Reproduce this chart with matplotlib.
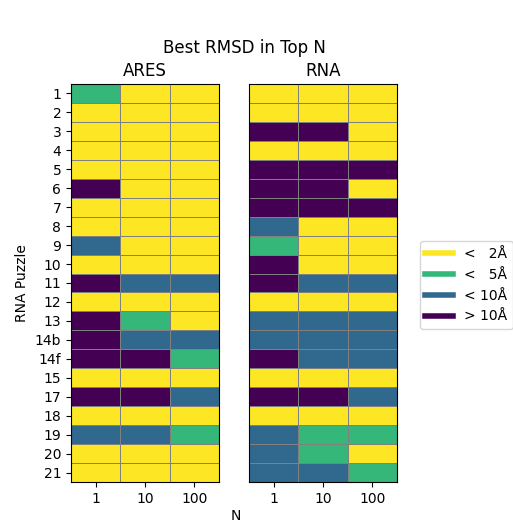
import numpy as np
import matplotlib
matplotlib.use("Agg")
import matplotlib.pyplot as plt
from matplotlib.colors import ListedColormap
from matplotlib.lines import Line2D

puzzles = ["1", "2", "3", "4", "5", "6", "7", "8", "9", "10", "11", "12",
           "13", "14b", "14f", "15", "17", "18", "19", "20", "21"]
top_n = ["1", "10", "100"]
# 0: > 10A, 1: < 10A, 2: < 5A, 3: < 2A
ares = [
    [2, 3, 3], [3, 3, 3], [3, 3, 3], [3, 3, 3], [3, 3, 3], [0, 3, 3],
    [3, 3, 3], [3, 3, 3], [1, 3, 3], [3, 3, 3], [0, 1, 1], [3, 3, 3],
    [0, 2, 3], [0, 1, 1], [0, 0, 2], [3, 3, 3], [0, 0, 1], [3, 3, 3],
    [1, 1, 2], [3, 3, 3], [3, 3, 3],
]
rna = [
    [3, 3, 3], [3, 3, 3], [0, 0, 3], [3, 3, 3], [0, 0, 0], [0, 0, 3],
    [0, 0, 0], [1, 3, 3], [2, 3, 3], [0, 3, 3], [0, 1, 1], [3, 3, 3],
    [1, 1, 1], [1, 1, 1], [0, 1, 1], [3, 3, 3], [0, 0, 1], [3, 3, 3],
    [1, 2, 2], [1, 2, 3], [1, 1, 2],
]
level_labels = ["<   2Å", "<   5Å", "< 10Å", "> 10Å"]
colors = ["#440154", "#31688e", "#35b779", "#fde725"]

cmap = ListedColormap(colors)

fig = plt.figure(figsize=(5.13, 5.23), dpi=100)
ax1 = fig.add_axes([0.1384, 0.0784, 0.2885, 0.761])
ax2 = fig.add_axes([0.4854, 0.0784, 0.2885, 0.761])

for ax, data, name in [(ax1, ares, "ARES"), (ax2, rna, "RNA")]:
    arr = np.array(data)
    ax.pcolormesh(arr, cmap=cmap, vmin=-0.5, vmax=3.5,
                  edgecolors="#808080", linewidth=0.6)
    ax.set_xlim(0, len(top_n))
    ax.set_ylim(len(puzzles), 0)
    ax.set_xticks(np.arange(len(top_n)) + 0.5)
    ax.set_xticklabels(top_n)
    ax.set_title(name, fontsize=12)

ax1.set_yticks(np.arange(len(puzzles)) + 0.5)
ax1.set_yticklabels(puzzles)
ax1.set_ylabel("RNA Puzzle")
ax2.set_yticks([])

fig.suptitle("Best RMSD in Top N", x=0.476, y=0.925, fontsize=12)
fig.text(0.46, 0.0, "N", ha="center", va="bottom", fontsize=10)

handles = [Line2D([0], [0], color=c, lw=4) for c in colors[::-1]]
fig.legend(handles, level_labels, loc="center left",
           bbox_to_anchor=(0.805, 0.455), fontsize=10)

fig.savefig("out.png", dpi=100)
